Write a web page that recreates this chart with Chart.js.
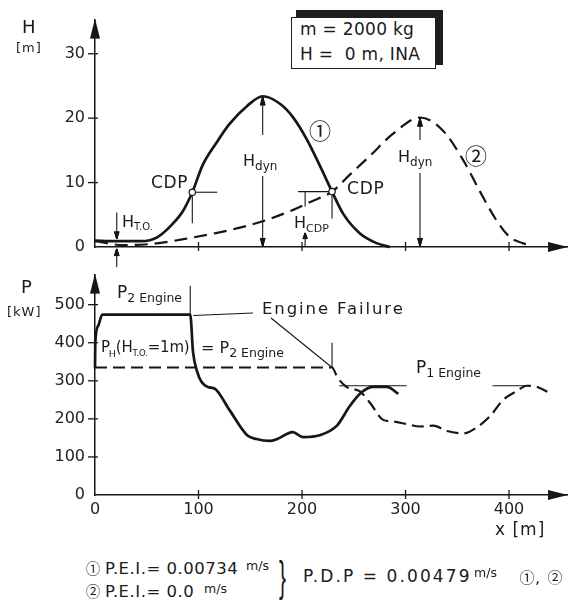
<!DOCTYPE html>
<html>
<head>
<meta charset="utf-8">
<script src="https://cdn.jsdelivr.net/npm/chart.js@4"></script>
<style>
  html, body { margin: 0; padding: 0; background: #fff; }
  #stage { position: relative; width: 569px; height: 601px; overflow: hidden; background: #fff; }
  .cv { position: absolute; left: 0; width: 569px; }
  .t { position: absolute; font-family: 'DejaVu Sans', sans-serif; line-height: 1; white-space: nowrap; color: #1b1b1b; }
  .t span { position: relative; }
  .ring { position: absolute; font-family: 'Noto Sans CJK JP', sans-serif; text-align: center; color: #1b1b1b; }
  #boxShade { position: absolute; left: 296px; top: 10px; width: 147px; height: 55px; background: #1e1e1e; }
  #box { position: absolute; left: 291px; top: 17px; width: 143px; height: 50px; background: #fff; border: 1.5px solid #1e1e1e; }
</style>
</head>
<body>
<div id="stage">
  <div class="cv" style="top:0;height:272px"><canvas id="hChart"></canvas></div>
  <div class="cv" style="top:255px;height:290px"><canvas id="pChart"></canvas></div>
  <div id="boxShade"></div>
  <div id="box"></div>
</div>
<script>
// axes
const xTicks = [0, 100, 200, 300, 400];
const hTicks = [0, 10, 20, 30];
const pTicks = [0, 100, 200, 300, 400, 500];
const xMax = 456, hMax = 35.3, pMax = 579;

// height over distance, flight path 1 (solid) and 2 (dashed)
const path1X = [0, 20, 45, 60, 75, 85, 94, 104, 117, 130, 147, 162, 179, 191, 205, 217, 229, 240, 256, 272, 285];
const path1H = [1.0, 0.9, 0.9, 1.5, 3.6, 5.6, 8.5, 12.7, 16.1, 19.1, 21.9, 23.4, 22.2, 20.2, 16.6, 12.7, 8.6, 5.1, 2.1, 0.6, 0];
const path2X = [0, 27, 56, 92, 118, 140, 162, 192, 208, 229, 246, 266, 288, 314, 336, 356, 372, 388, 401, 413, 421];
const path2H = [0.9, 0.3, 0.5, 1.4, 2.2, 3.0, 4.0, 5.8, 7.0, 8.6, 11.2, 14.2, 17.6, 20.1, 18.1, 13.4, 8.6, 4.1, 1.5, 0.6, 0.2];

// required power over distance
const power1X = [0, 0.3, 3, 7, 92, 94.7, 98.6, 103, 109, 116, 130, 147, 156, 169, 176, 191, 201, 217, 234, 246, 256, 268, 282, 293];
const power1P = [335, 401, 444, 474, 474, 376, 325, 297, 284, 279, 223, 157, 147, 142, 147, 165, 152, 157, 183, 233, 266, 284, 284, 266];
const power2X = [0, 229, 234, 243, 256, 266, 278, 288, 300, 314, 327, 340, 356, 369, 382, 394, 408, 417, 427, 437];
const power2P = [335, 335, 310, 284, 272, 241, 198, 193, 187, 180, 182, 168, 162, 178, 208, 249, 274, 287, 284, 271];

// marked points
const cdpX = [94, 229];
const cdpH = [8.5, 8.6];
const failX = [92, 229];
const failTop = [550, 400];
const p1Engine = 287;
const p1Spans = [[236, 301], [384, 417]];
const hTO = 1, hTOX = 21, hCdpX = 203;

const INK = '#161616';
const P_TOP = 255; // page offset of the power chart

Chart.defaults.font.family = "'DejaVu Sans', sans-serif";
Chart.defaults.color = '#222';

const pts = (xs, ys) => xs.map((x, i) => ({ x, y: ys[i] }));

// point image for the axis ends: triangle in the left half, tip just past the centre
function tipImage() {
    const c = document.createElement('canvas');
    c.width = 40; c.height = 10;
    const g = c.getContext('2d');
    g.fillStyle = INK;
    g.beginPath();
    g.moveTo(21, 5); g.lineTo(1, 0); g.lineTo(1, 10);
    g.closePath();
    g.fill();
    return c;
}
const tip = tipImage();
const axisEnds = yMax => ({
    data: [{ x: 0, y: yMax }, { x: xMax, y: 0 }],
    showLine: false, pointStyle: tip, rotation: [-90, 0], pointRadius: 5, clip: false
});

function seg(ctx, x1, y1, x2, y2) {
    ctx.beginPath(); ctx.moveTo(x1, y1); ctx.lineTo(x2, y2); ctx.stroke();
}
// small arrow head: strokes fanned out from the tip to the base edge
function tri(ctx, x0, y0, x1, y1, x2, y2) {
    ctx.save();
    ctx.setLineDash([]);
    ctx.strokeStyle = INK;
    ctx.lineWidth = 1.2;
    for (let i = 0; i <= 12; i++) {
        const t = i / 12;
        seg(ctx, x0, y0, x1 + (x2 - x1) * t, y1 + (y2 - y1) * t);
    }
    ctx.restore();
}
const arrowUp = (ctx, x, y, len, half) => tri(ctx, x, y, x - half, y + len, x + half, y + len);
const arrowDown = (ctx, x, y, len, half) => tri(ctx, x, y, x - half, y - len, x + half, y - len);

// tick marks crossing both axes
function axisTicks(chart, yVals) {
    const ctx = chart.ctx, area = chart.chartArea;
    const xs = chart.scales.x, ys = chart.scales.y;
    ctx.save();
    ctx.setLineDash([]);
    ctx.strokeStyle = INK;
    ctx.lineWidth = 1.3;
    xTicks.slice(1).forEach(v => seg(ctx, xs.getPixelForValue(v), area.bottom - 5, xs.getPixelForValue(v), area.bottom + 4));
    yVals.slice(1).forEach(v => seg(ctx, area.left - 7, ys.getPixelForValue(v), area.left + 3, ys.getPixelForValue(v)));
    ctx.restore();
}

const heightMarks = {
    id: 'heightMarks',
    afterDraw(chart) {
        const { ctx, scales: { x, y } } = chart;
        const X = v => x.getPixelForValue(v), Y = v => y.getPixelForValue(v);
        axisTicks(chart, hTicks);
        ctx.save();
        ctx.setLineDash([]);
        ctx.strokeStyle = INK;
        ctx.lineWidth = 1.1;

        // H_dyn from the ground to each peak, split around the label
        const dynGap = [[135, 176], [140, 173]];
        [[path1X, path1H], [path2X, path2H]].forEach(([xs, hs], i) => {
            const k = hs.indexOf(Math.max(...hs));
            const px = X(xs[k]), top = Y(hs[k]), bot = Y(0);
            seg(ctx, px, top + 2, px, dynGap[i][0]);
            arrowUp(ctx, px, top + 1, 8, 2.4);
            seg(ctx, px, dynGap[i][1], px, bot - 2);
            arrowDown(ctx, px, bot - 1, 8, 2.4);
        });

        // H_T.O.
        const tx = X(hTOX);
        seg(ctx, tx, Y(hTO) - 28, tx, Y(hTO) - 4);
        arrowDown(ctx, tx, Y(hTO) - 2, 7, 2.4);
        seg(ctx, tx, Y(0) + 20, tx, Y(0) + 5);
        arrowUp(ctx, tx, Y(0) + 2, 7, 2.4);

        // H_CDP
        const cx = X(hCdpX);
        seg(ctx, cx, Y(cdpH[1]), cx, Y(cdpH[1]) + 15);
        seg(ctx, cx, Y(0) - 12, cx, Y(0));
        arrowUp(ctx, cx, Y(0) - 14, 6, 2.2);

        // CDP leaders and circles
        const c1x = X(cdpX[0]), c1y = Y(cdpH[0]);
        const c2x = X(cdpX[1]), c2y = Y(cdpH[1]);
        seg(ctx, c1x, c1y, c1x + 25, c1y);
        seg(ctx, c1x, c1y, c1x, c1y + 31);
        seg(ctx, c2x - 34, c2y, c2x, c2y);
        seg(ctx, c2x, c2y, c2x, c2y + 27);
        ctx.lineWidth = 1.2;
        [[c1x, c1y], [c2x, c2y]].forEach(([px, py]) => {
            ctx.beginPath(); ctx.arc(px, py, 3.2, 0, Math.PI * 2);
            ctx.fillStyle = '#fff'; ctx.fill(); ctx.stroke();
        });
        ctx.restore();
    }
};

const powerMarks = {
    id: 'powerMarks',
    afterDraw(chart) {
        const { ctx, scales: { x, y } } = chart;
        const X = v => x.getPixelForValue(v), Y = v => y.getPixelForValue(v);
        axisTicks(chart, pTicks);
        ctx.save();
        ctx.setLineDash([]);
        ctx.strokeStyle = INK;
        ctx.lineWidth = 1.1;

        // engine failure markers and label leaders
        failX.forEach((fx, i) => seg(ctx, X(fx), Y(failTop[i]), X(fx), Y(i ? power2P[1] : power1P[4])));
        seg(ctx, X(failX[0]) + 3, Y(power1P[4]) + 1, 253, 313 - P_TOP);
        seg(ctx, 271, 318 - P_TOP, X(failX[1]), Y(power2P[1]));

        // single engine power level
        p1Spans.forEach(([a, b]) => seg(ctx, X(a), Y(p1Engine), X(b), Y(p1Engine)));
        ctx.restore();
    }
};

function scalesFor(yTicks, yMax, showX) {
    return {
        x: {
            type: 'linear', min: 0, max: xMax,
            afterBuildTicks: s => { s.ticks = xTicks.map(v => ({ value: v })); },
            afterFit: s => { s.height = showX ? 30 : 0; },
            ticks: { display: showX, padding: 5, color: '#222', font: { size: 16 } },
            grid: { drawOnChartArea: false, drawTicks: false },
            border: { color: INK, width: 1.5 }
        },
        y: {
            min: 0, max: yMax,
            afterBuildTicks: s => { s.ticks = yTicks.map(v => ({ value: v })); },
            afterFit: s => { s.width = 95; },
            ticks: { padding: 10, color: '#222', font: { size: 16 } },
            grid: { drawOnChartArea: false, drawTicks: false },
            border: { color: INK, width: 1.5 }
        }
    };
}

const curve = (data, width, dash) => ({
    data, borderColor: INK, borderWidth: width, borderDash: dash || [],
    pointRadius: 0, cubicInterpolationMode: 'monotone', fill: false, clip: false
});

const baseOpts = (padding, scales) => ({
    responsive: true, maintainAspectRatio: false, animation: false,
    layout: { padding, autoPadding: false },
    plugins: { legend: { display: false }, tooltip: { enabled: false } },
    scales
});

new Chart(document.getElementById('hChart'), {
    type: 'line',
    data: { datasets: [curve(pts(path1X, path1H), 2.7), curve(pts(path2X, path2H), 2.2, [13, 7]), axisEnds(hMax)] },
    options: baseOpts({ top: 13, right: 2, bottom: 25, left: 0 }, scalesFor(hTicks, hMax, false)),
    plugins: [heightMarks]
});

new Chart(document.getElementById('pChart'), {
    type: 'line',
    data: { datasets: [curve(pts(power1X, power1P), 2.7), curve(pts(power2X, power2P), 2.2, [12, 6]), axisEnds(pMax)] },
    options: baseOpts({ top: 12, right: 2, bottom: 20, left: 0 }, scalesFor(pTicks, pMax, true)),
    plugins: [powerMarks]
});

// text labels, placed by baseline
const stage = document.getElementById('stage');
function put(html, left, base, size, extra) {
    const d = document.createElement('div');
    d.className = 't';
    d.style.cssText = `left:${left}px;top:${(base - 0.846 * size).toFixed(1)}px;font-size:${size}px;${extra || ''}`;
    d.innerHTML = html;
    stage.appendChild(d);
}
function ring(ch, cx, cy, size) {
    const d = document.createElement('div');
    d.className = 'ring';
    d.style.cssText = `left:${cx - size / 2}px;top:${(cy - size / 2 - 0.056 * size).toFixed(1)}px;width:${size}px;height:${size}px;line-height:${size}px;font-size:${size}px`;
    d.textContent = ch;
    stage.appendChild(d);
}
const sub = (t, size, dy, extra) => `<span style="font-size:${size}px;top:${dy}px;${extra || ''}">${t}</span>`;

// height chart
put('H', 22, 33, 18);
put('[m]', 16, 52, 13, 'letter-spacing:1px');
put('H' + sub('T.O.', 10, 3), 122, 227, 16);
put('CDP', 151, 188, 17, 'letter-spacing:0.6px');
put('H' + sub('dyn', 12, 4), 243, 166, 16);
put('H' + sub('dyn', 12, 4), 398, 162, 16);
put('CDP', 347, 194, 17, 'letter-spacing:0.8px');
put('H' + sub('CDP', 11, 4), 294, 228, 16);
ring('①', 320, 130, 22);
ring('②', 476, 155, 22);
put('m = 2000 kg', 300, 35, 17, 'letter-spacing:0.3px');
put('H =&nbsp; 0 m, INA', 300, 60, 17, 'letter-spacing:0.3px');

// power chart
put('P', 21, 293, 18);
put('[kW]', 7, 316, 13, 'letter-spacing:1px');
put('P' + sub('2 Engine', 12.5, 4), 117, 298, 17);
put('Engine Failure', 262, 315, 16.5, 'letter-spacing:1.9px');
put('P' + sub('H', 9.5, 5, 'margin-left:-1px') + '(H' + sub('T.O.', 8.5, 4) + '=1m)', 101, 353, 15, 'letter-spacing:-0.2px');
put('= P' + sub('2 Engine', 12.5, 4), 201, 353, 16);
put('P' + sub('1 Engine', 12.5, 4), 416, 373, 17);
put('x [m]', 495, 535, 17, 'letter-spacing:1px');

// notes under the chart
ring('①', 93, 569, 14.5);
ring('②', 93, 592, 14.5);
put('P.E.I.= 0.00734', 105, 575, 16.5, 'letter-spacing:0.5px');
put('m/s', 246, 571, 12.5);
put('P.E.I.= 0.0', 105, 598, 16.5, 'letter-spacing:0.5px');
put('m/s', 204, 594, 12.5);
put('}', 279, 591, 42, "font-family:'Liberation Sans';transform:scaleX(0.5);transform-origin:left");
put('P.D.P = 0.00479', 303, 582, 17, 'letter-spacing:2.1px');
put('m/s', 474, 578, 12.5);
ring('①', 527, 577, 15);
put(',', 535, 583, 16);
ring('②', 555, 577, 15);
</script>
</body>
</html>
